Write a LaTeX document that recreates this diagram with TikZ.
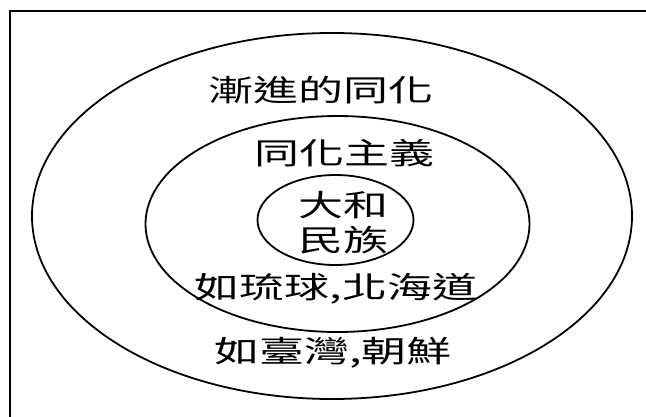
\documentclass[tikz,border=0pt]{standalone}
\usepackage{fontspec}
\newfontfamily\cjk{Noto Sans CJK TC}
\newcommand\widetxt[1]{\scalebox{1.5}[1]{#1}}
\tikzset{
  ring/.style={draw=black, line width=1.8pt},
  lbl/.style={font=\cjk\fontsize{30}{34}\selectfont, inner sep=0pt, align=center},
  frame/.style={draw=black, line width=1.8pt}
}
\begin{document}
\begin{tikzpicture}[x=1pt,y=-1pt]
\useasboundingbox (0,0) rectangle (646,416);
\fill[white] (0,0) rectangle (646,416);
\clip (0,0) rectangle (646,416);
\draw[frame] (10,11) rectangle (680,440);
% rings
\draw[ring] (332,216) ellipse [x radius=300, y radius=183];
\draw[ring] (337.5,224) ellipse [x radius=192, y radius=108];
\draw[ring] (335.5,220) ellipse [x radius=78, y radius=45];
% labels
\node[lbl] (gradual) at (321,90) {\widetxt{漸進的同化}};
\node[lbl] (assim) at (344,153) {\widetxt{同化主義}};
\node[lbl] (yamato1) at (343,205) {\widetxt{大和}};
\node[lbl] (yamato2) at (343,240) {\widetxt{民族}};
\node[lbl] (ryukyu) at (336,289) {\widetxt{如琉球,北海道}};
\node[lbl] (taiwan) at (333,353) {\widetxt{如臺灣,朝鮮}};
\end{tikzpicture}
\end{document}
